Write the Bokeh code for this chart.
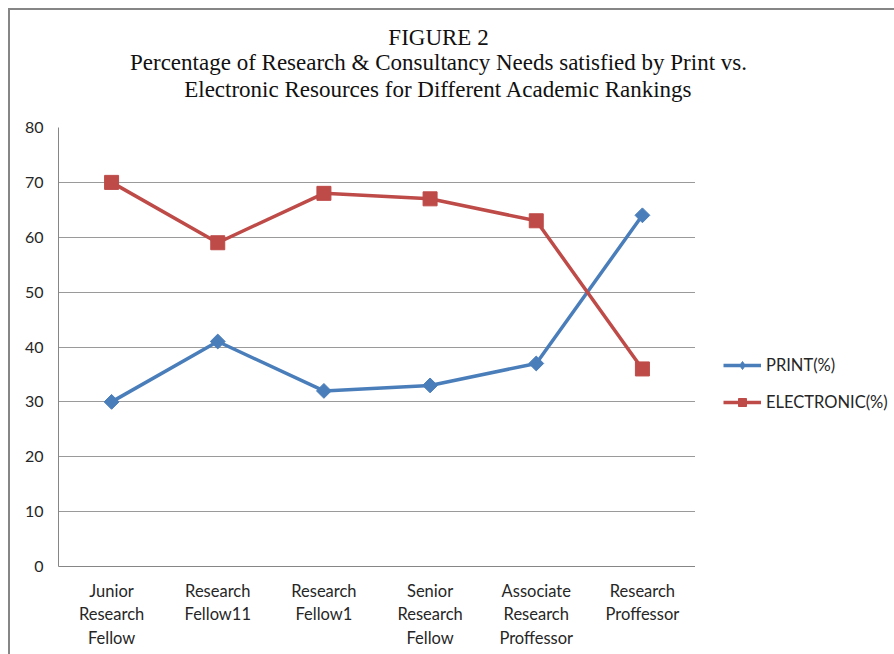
from bokeh.plotting import figure
from bokeh.models import Range1d, FactorRange, Label, Legend, LegendItem, ColumnDataSource
from bokeh.layouts import column, row
from bokeh.embed import file_html
from bokeh.resources import INLINE
import numpy as np

categories = ["Junior\nResearch\nFellow", "Research\nFellow11", "Research\nFellow1",
              "Senior\nResearch\nFellow", "Associate\nResearch\nProffessor", "Research\nProffessor"]
print_pct = [30, 41, 32, 33, 37, 64]
electronic_pct = [70, 59, 68, 67, 63, 36]
y_ticks = [0, 10, 20, 30, 40, 50, 60, 70, 80]
title_lines = ["FIGURE 2",
               "Percentage of Research & Consultancy Needs satisfied by Print vs.",
               "Electronic Resources for Different Academic Rankings"]
series_names = ["PRINT(%)", "ELECTRONIC(%)"]

BLUE = "#4a7ebb"
RED = "#be4b48"
SANS = "Lato"
SERIF = "Liberation Serif"
TXT = "#262626"

src = ColumnDataSource(dict(cat=categories, pr=print_pct, el=electronic_pct))


def bare(w, h, **kw):
    f = figure(width=w, height=h, output_backend="svg", toolbar_location=None,
               x_axis_type=None, y_axis_type=None, min_border=0, **kw)
    f.outline_line_color = None
    f.background_fill_color = "white"
    f.border_fill_color = "white"
    return f


# ---- title block ----
tf = bare(884, 107, x_range=Range1d(0, 1), y_range=Range1d(0, 1))
for txt, yy in zip(title_lines, [80, 55, 28]):
    tf.add_layout(Label(x=428, y=yy, x_units="screen", y_units="screen", text=txt,
                        text_align="center", text_baseline="middle",
                        text_font=SERIF, text_font_size="23px", text_color="#111111"))

# ---- main chart ----
p = figure(x_range=FactorRange(*categories, range_padding=0), y_range=Range1d(0, 80),
           width=685, height=537, output_backend="svg", toolbar_location=None,
           min_border_left=48, min_border_right=0, min_border_top=10, min_border_bottom=88)
p.outline_line_color = None
p.background_fill_color = "white"
p.border_fill_color = "white"
p.xgrid.grid_line_color = None
p.ygrid.grid_line_color = "#9a9a9a"
p.ygrid.grid_line_width = 1
p.yaxis.ticker = y_ticks
for ax in (p.xaxis, p.yaxis):
    ax.axis_line_color = "#868686"
    ax.axis_line_width = 1
    ax.major_tick_line_color = None
    ax.minor_tick_line_color = None
    ax.major_label_text_font = SANS
    ax.major_label_text_color = TXT
p.yaxis.major_label_text_font_size = "16px"
p.xaxis.major_label_text_font_size = "16.5px"
p.yaxis.major_label_standoff = 9
p.xaxis.major_label_standoff = 8
p.xaxis.major_label_text_line_height = 1.18

p.line("cat", "pr", source=src, line_color=BLUE, line_width=3.5)
p.scatter("cat", "pr", source=src, marker="square", angle=np.pi / 4, size=10.5,
          fill_color=BLUE, line_color=BLUE)
p.line("cat", "el", source=src, line_color=RED, line_width=3.5)
p.scatter("cat", "el", source=src, marker="square", size=14,
          fill_color=RED, line_color=RED)

# ---- legend block (same series, drawn outside its visible range) ----
lf = bare(199, 537, x_range=FactorRange(*categories, range_padding=0), y_range=Range1d(-200, -100))
l1 = lf.line("cat", "pr", source=src, line_color=BLUE, line_width=3.5)
s1 = lf.scatter("cat", "pr", source=src, marker="diamond", size=20,
                fill_color=BLUE, line_color=BLUE)
l2 = lf.line("cat", "el", source=src, line_color=RED, line_width=3.5)
s2 = lf.scatter("cat", "el", source=src, marker="square", size=14,
                fill_color=RED, line_color=RED)
legend = Legend(items=[LegendItem(label=series_names[0], renderers=[l1, s1]),
                       LegendItem(label=series_names[1], renderers=[l2, s2])],
                location=(28, 154), orientation="vertical",
                glyph_width=38, glyph_height=20, label_height=20, spacing=17,
                label_standoff=5, padding=0, margin=0,
                border_line_color=None, background_fill_alpha=0,
                label_text_font=SANS, label_text_font_size="16.5px", label_text_color=TXT)
lf.add_layout(legend)

layout = column(tf, row(p, lf, spacing=0), spacing=0,
                styles={"border-left": "2px solid #868686", "border-top": "2px solid #868686",
                        "margin-left": "8px", "margin-top": "8px"})

open("out.html", "w").write(file_html(layout, INLINE))
